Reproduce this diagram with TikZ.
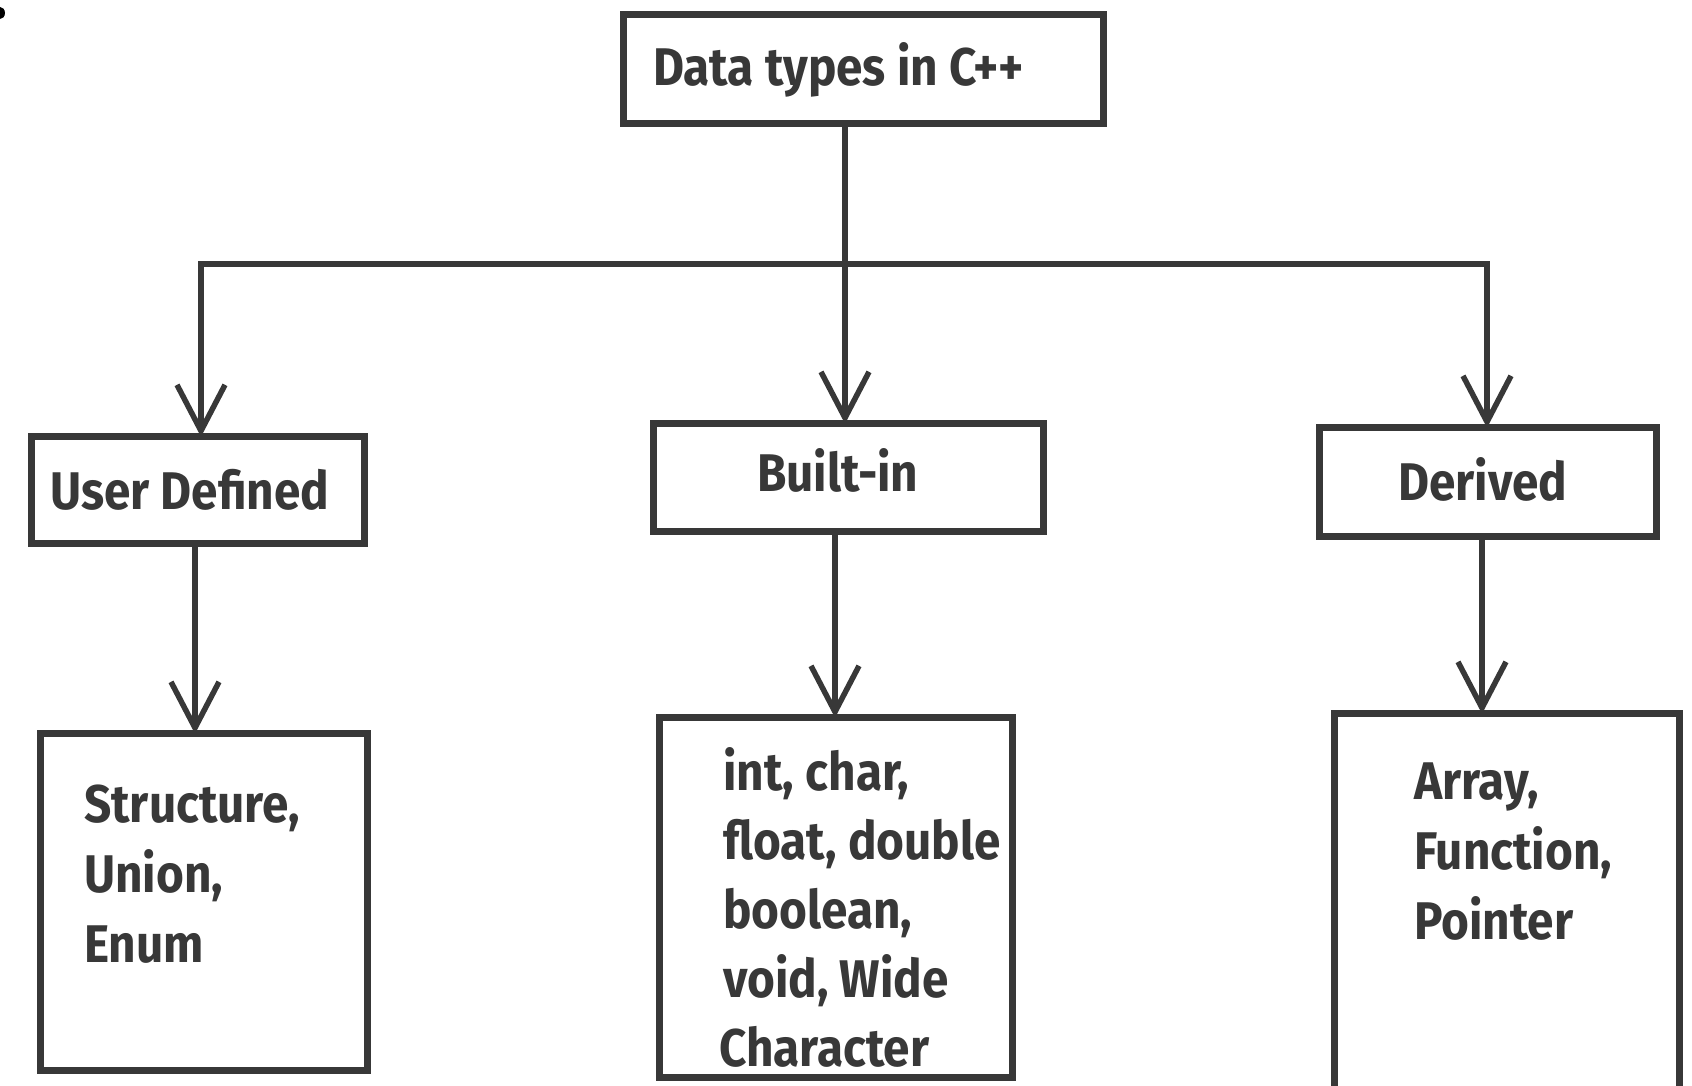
\documentclass[tikz,border=0pt]{standalone}
\usepackage{fontspec}
\setmainfont{Fira Sans}[FakeStretch=0.90]
\usetikzlibrary{arrows.meta}
\definecolor{ink}{HTML}{383838}
\begin{document}
\begin{tikzpicture}[x=1pt,y=-1pt,
  box/.style={draw=ink,line width=7pt,fill=none},
  lbl/.style={anchor=base west,inner sep=0pt,text=ink,font=\bfseries\fontsize{53}{70}\selectfont},
  conn/.style={draw=ink,line width=5.5pt},
  arr/.style={conn,-{Straight Barb[length=46pt,width=48pt]}}]
\useasboundingbox (0,0) rectangle (1692,1086);
\fill[white] (0,0) rectangle (1692,1086);
% corner mark
\fill[black] (0,13) ellipse (5pt and 6pt);
% boxes
\node[inner sep=0pt,minimum width=479pt,minimum height=108pt] (top) at (863.5,69) {};
\node[inner sep=0pt,minimum width=332pt,minimum height=106pt] (ud) at (198,490) {};
\node[inner sep=0pt,minimum width=389pt,minimum height=107pt] (bi) at (848.5,477.5) {};
\node[inner sep=0pt,minimum width=336pt,minimum height=108pt] (de) at (1488,482) {};
\node[inner sep=0pt,minimum width=326pt,minimum height=336pt] (s) at (204,902) {};
\node[inner sep=0pt,minimum width=352pt,minimum height=359pt] (p) at (836,897.5) {};
\node[inner sep=0pt,minimum width=344pt,minimum height=380pt] (d) at (1507,904) {};
\foreach \n in {top,ud,bi,de,s,p,d} \draw[box] (\n.north west) rectangle (\n.south east);
% texts
\node[lbl] (t0) at (653,86) {Data types in C++};
\node[lbl] (t1) at (50,509) {User Defined};
\node[lbl] (t2) at (757,491) {Built-in};
\node[lbl] (t3) at (1398,500) {Derived};
\node[lbl,align=left,anchor=north west] (t4) at (84,785) {Structure,\\Union,\\Enum};
\node[lbl,align=left,anchor=north west,font=\bfseries\fontsize{53}{69}\selectfont] (t5) at (723,747) {int, char,\\float, double\\boolean,\\void, Wide\\\hspace*{-4pt}Character};
\node[lbl,align=left,anchor=north west] (t6) at (1414,763) {Array,\\Function,\\Pointer};
% connectors
\coordinate (j) at (845,264);
\coordinate (jl) at (201,264);
\coordinate (jr) at (1487,264);
\draw[conn] (top.south -| j) -- (j);
\draw[conn,line cap=rect] (jl) -- (jr);
\draw[arr] (jl) -- (jl |- ud.north);
\draw[arr] (j) -- (j |- bi.north);
\draw[arr] (jr) -- (jr |- de.north);
\coordinate (a1) at (195,0);
\coordinate (a2) at (835,0);
\coordinate (a3) at (1482,0);
\draw[arr] (a1 |- ud.south) -- (a1 |- s.north);
\draw[arr] (a2 |- bi.south) -- (a2 |- p.north);
\draw[arr] (a3 |- de.south) -- (a3 |- d.north);
\end{tikzpicture}
\end{document}
